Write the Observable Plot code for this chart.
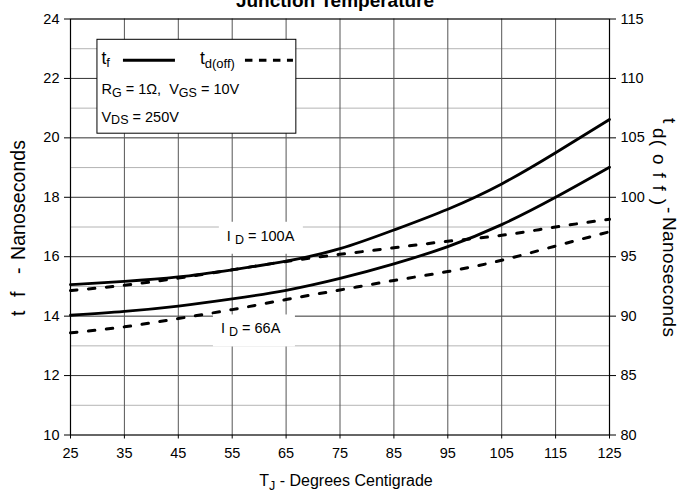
<!DOCTYPE html>
<html><head><meta charset="utf-8">
<script src="https://cdn.jsdelivr.net/npm/d3@7"></script>
<script src="https://cdn.jsdelivr.net/npm/@observablehq/plot@0.6"></script>
<style>
body{margin:0;background:#fff;}
#chart svg{font-family:"Liberation Sans",Arial,sans-serif;}
</style>
</head><body><div id="chart"></div>
<script>
// ---- data ----
const temps   = [25, 35, 45, 55, 65, 75, 85, 95, 105, 115, 125];
const tf100   = [15.06, 15.17, 15.32, 15.56, 15.85, 16.27, 16.9, 17.6, 18.45, 19.5, 20.62]; // t_f, I_D = 100A (left axis)
const tf66    = [14.03, 14.16, 14.34, 14.58, 14.87, 15.27, 15.76, 16.34, 17.08, 18.0, 19.01]; // t_f, I_D = 66A (left axis)
const td100   = [92.15, 92.6, 93.2, 93.9, 94.6, 95.2, 95.75, 96.3, 96.8, 97.5, 98.15]; // t_d(off), 100A (right axis)
const td66    = [88.6, 89.1, 89.8, 90.55, 91.4, 92.2, 93.0, 93.75, 94.7, 95.9, 97.1]; // t_d(off), 66A (right axis)
const xTicks  = [25, 35, 45, 55, 65, 75, 85, 95, 105, 115, 125];
const leftTicks  = [10, 12, 14, 16, 18, 20, 22, 24];
const rightTicks = [80, 85, 90, 95, 100, 105, 110, 115];
const minorY  = [11, 13, 15, 17, 19, 21, 23];

// right axis (ns) maps linearly onto the left axis: 80 -> 10, 115 -> 24
const rToL = v => 10 + (v - 80) / 2.5;
const lToR = v => 80 + (v - 10) * 2.5;

const rows = [];
temps.forEach((t, i) => {
  rows.push({T: t, v: tf100[i], s: "tf100", dash: false});
  rows.push({T: t, v: tf66[i],  s: "tf66",  dash: false});
  rows.push({T: t, v: rToL(td100[i]), s: "td100", dash: true});
  rows.push({T: t, v: rToL(td66[i]),  s: "td66",  dash: true});
});

const FONT = '"Liberation Sans",Arial,sans-serif';

const plot = Plot.plot({
  width: 683, height: 493,
  marginLeft: 70, marginRight: 74, marginTop: 18.5, marginBottom: 58.5,
  style: {fontFamily: FONT, fontSize: "14px", color: "black", background: "white"},
  x: {domain: [25, 125]},
  y: {domain: [10, 24]},
  marks: [
    Plot.ruleY(minorY, {stroke: "#b4b4b4", strokeWidth: 1}),
    Plot.ruleY(leftTicks.slice(1, -1), {stroke: "#333", strokeWidth: 1}),
    Plot.ruleX(xTicks.slice(1, -1), {stroke: "#555", strokeWidth: 1}),
    Plot.frame({stroke: "black", strokeWidth: 1.2}),
    Plot.axisX(xTicks, {tickSize: 4, tickPadding: 9, label: null, fontSize: 14.5}),
    Plot.axisY(leftTicks, {anchor: "left", tickSize: 6, tickPadding: 5, label: null, fontSize: 14.5}),
    Plot.axisY(rightTicks.map(rToL), {anchor: "right", tickSize: 6, tickPadding: 5, label: null, fontSize: 14.5,
      tickFormat: d => String(Math.round(lToR(d)))}),
    Plot.line(rows.filter(d => !d.dash), {x: "T", y: "v", z: "s", curve: "natural", stroke: "black", strokeWidth: 2.8}),
    Plot.line(rows.filter(d => d.dash), {x: "T", y: "v", z: "s", curve: "natural", stroke: "black", strokeWidth: 3,
      strokeDasharray: "6.5,11.5"}),
    Plot.text(["Junction Temperature"], {frameAnchor: "top", dy: -12, dx: -5, lineAnchor: "bottom", fontWeight: "bold", fontSize: 19})
  ]
});
document.getElementById("chart").appendChild(plot);

// ---- annotations with subscripts ----
const svg = d3.select(plot);
const xs = plot.scale("x"), ys = plot.scale("y");
const g = svg.append("g").attr("font-family", FONT).attr("fill", "black").attr("text-anchor", "start");

function rich(x, y, parts, size, subSize, shift, attrs = {}) {
  const t = g.append("text").attr("x", x).attr("y", y).attr("font-size", size);
  for (const k in attrs) t.attr(k, attrs[k]);
  let cur = 0;
  for (const [str, sub] of parts) {
    const want = sub ? shift : 0;
    t.append("tspan").attr("dy", want - cur).attr("font-size", sub ? subSize : size).text(str);
    cur = want;
  }
  return t;
}

// legend box
const lx0 = xs.apply(30), lx1 = xs.apply(66.9), ly0 = ys.apply(23.3), ly1 = ys.apply(20.14);
g.append("rect").attr("x", lx0).attr("y", ly0).attr("width", lx1 - lx0).attr("height", ly1 - ly0)
  .attr("fill", "white").attr("stroke", "black").attr("stroke-width", 1);
rich(lx0 + 4.5, ly0 + 25, [["t", false], ["f", true]], 17.5, 13, 3);
g.append("line").attr("x1", lx0 + 26).attr("x2", lx0 + 78).attr("y1", ly0 + 21).attr("y2", ly0 + 21)
  .attr("stroke", "black").attr("stroke-width", 3);
rich(lx0 + 103, ly0 + 25, [["t", false], ["d(off)", true]], 17.5, 13, 4);
g.append("line").attr("x1", lx0 + 148).attr("x2", lx0 + 196).attr("y1", ly0 + 21).attr("y2", ly0 + 21)
  .attr("stroke", "black").attr("stroke-width", 3).attr("stroke-dasharray", "7.5,6.5");
rich(lx0 + 4.5, ly0 + 55, [["R", false], ["G", true], [" = 1Ω,  V", false], ["GS", true], [" = 10V", false]], 14.5, 12.5, 2.5);
rich(lx0 + 4.5, ly0 + 82.5, [["V", false], ["DS", true], [" = 250V", false]], 14.5, 12.5, 2.5);

// I_D labels
function idLabel(T, v, txt, bw) {
  const x = xs.apply(T), y = ys.apply(v);
  g.append("rect").attr("x", x - 8).attr("y", y - 19).attr("width", bw).attr("height", 32).attr("fill", "white");
  rich(x, y, [["I ", false], ["D", true], [txt, false]], 14.5, 12.5, 3);
}
idLabel(54.1, 16.52, " = 100A", 84);
idLabel(53.0, 13.4, " = 66A", 82);

// axis titles
rich(346, 486, [["T", false], ["J", true], [" - Degrees Centigrade", false]], 16, 12.5, 4, {"text-anchor": "middle"});

// left title (rotated, reads bottom to top)
const lt = g.append("text").attr("transform", "translate(25,0) rotate(-90)").attr("font-size", 19.5);
lt.append("tspan").attr("x", -316).attr("y", 0).text("t");
lt.append("tspan").attr("x", -297).attr("y", 0).text("f");
lt.append("tspan").attr("x", -274).attr("y", 0).text("-");
lt.append("tspan").attr("x", -260).attr("y", 0).attr("textLength", 120).text("Nanoseconds");

// right title (rotated, reads top to bottom)
const rt = g.append("text").attr("transform", "translate(663,0) rotate(90)").attr("font-size", 19);
rt.append("tspan").attr("x", 118).attr("y", 0).text("t");
rt.append("tspan").attr("x", 128).attr("y", 10).attr("textLength", 77).text("d( o f f )");
rt.append("tspan").attr("x", 207).attr("y", 0).text("-");
rt.append("tspan").attr("x", 217).attr("y", 0).attr("textLength", 120).text("Nanoseconds");
</script>
</body></html>
